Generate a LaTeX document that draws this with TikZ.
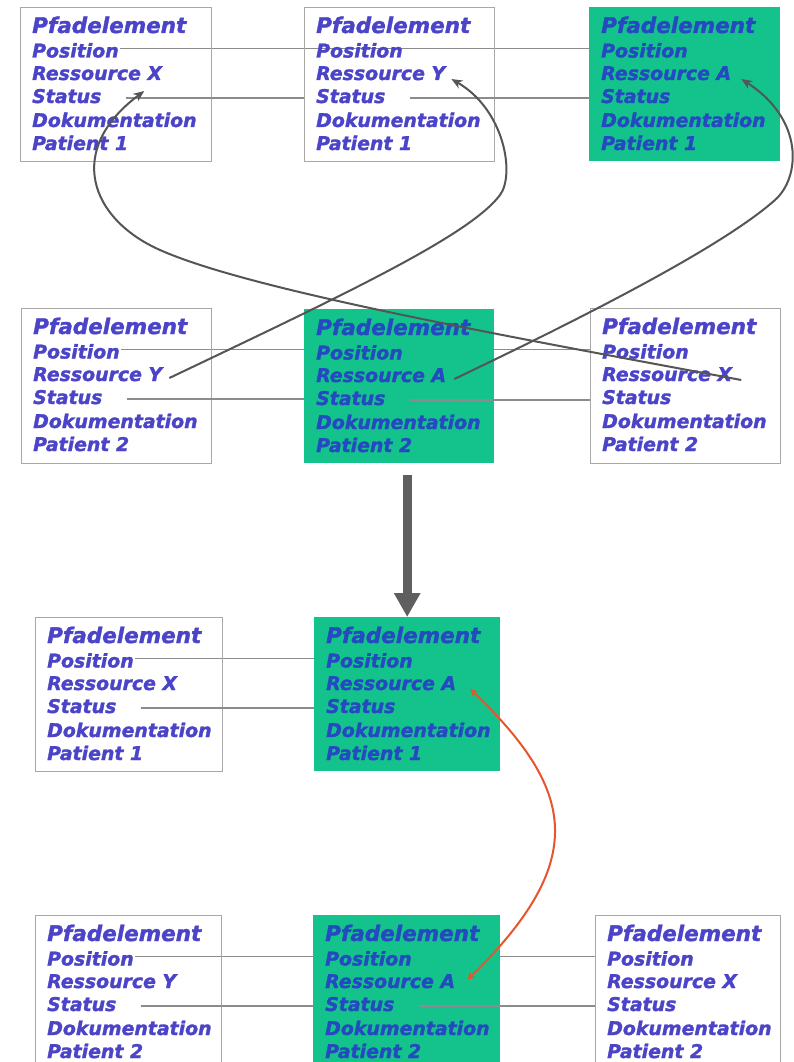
\documentclass[tikz,border=0pt]{standalone}
\usepackage{fontspec}
\setmainfont{DejaVu Sans}[BoldItalicFeatures={FakeBold=1.5}]
\usetikzlibrary{calc,arrows.meta}
\pgfdeclarelayer{background}
\pgfsetlayers{background,main}
\definecolor{pfgreen}{HTML}{14C38C}
\definecolor{pfblueW}{HTML}{4B44C8}
\definecolor{pfblueG}{HTML}{2549C0}
\definecolor{pfframe}{HTML}{A8A8A8}
\definecolor{pfline}{HTML}{8C8C8C}
\definecolor{pfcurve}{HTML}{555555}
\definecolor{pfred}{HTML}{E5562C}
\definecolor{pfbig}{HTML}{5F5F5F}
\newcommand\pfbox[8]{%
  \node[#6box, minimum width=#4pt, minimum height=#5pt, anchor=north west] (#1) at (#2,#3) {};
  \node[#6txt, titlefont, anchor=base west] (#1-t) at ($(#1.north west)+(12,26)$) {Pfadelement};
  \node[#6txt, anchor=base west] (#1-pos) at ($(#1.north west)+(12,50.5)$) {Position};
  \node[#6txt, anchor=base west] (#1-res) at ($(#1.north west)+(12,73)$) {#7};
  \node[#6txt, anchor=base west] (#1-st) at ($(#1.north west)+(12,96)$) {Status};
  \node[#6txt, anchor=base west] (#1-dok) at ($(#1.north west)+(12,120)$) {Dokumentation};
  \node[#6txt, anchor=base west] (#1-pat) at ($(#1.north west)+(12,143)$) {#8};
}
\begin{document}
\begin{tikzpicture}[x=1pt,y=-1pt,
  wbox/.style={draw=pfframe, line width=1.3pt, inner sep=0pt},
  gbox/.style={fill=pfgreen, draw=none, inner sep=0pt},
  wtxt/.style={text=pfblueW, inner sep=0pt, font=\fontsize{18.9}{20}\selectfont\bfseries\itshape},
  gtxt/.style={text=pfblueG, inner sep=0pt, font=\fontsize{18.9}{20}\selectfont\bfseries\itshape},
  titlefont/.style={font=\fontsize{21.5}{22}\selectfont\bfseries\itshape},
  posline/.style={draw=pfline, line width=1.2pt},
  stline/.style={draw=pfline, line width=1.2pt},
  curve/.style={draw=pfcurve, line width=2pt, -{Stealth[length=11pt,width=9pt]}},
  redarrow/.style={draw=pfred, line width=2pt, {Stealth[length=8pt,width=8pt]}-{Stealth[length=8pt,width=8pt]}},
  bigarrow/.style={draw=pfbig, line width=9pt, -{Triangle[length=24pt,width=25pt]}}]
\begin{pgfonlayer}{background}
  \fill[white] (0,0) rectangle (793,1062);
\end{pgfonlayer}
\useasboundingbox (0,0) rectangle (793,1062);

\pfbox{b11}{20}{7}{191}{154}{w}{Ressource X}{Patient 1}
\pfbox{b12}{304}{7}{190}{154}{w}{Ressource Y}{Patient 1}
\pfbox{b13}{589}{7}{191}{154}{g}{Ressource A}{Patient 1}
\pfbox{b21}{21}{308}{190}{155}{w}{Ressource Y}{Patient 2}
\pfbox{b22}{304}{309}{190}{154}{g}{Ressource A}{Patient 2}
\pfbox{b23}{590}{308}{190}{155}{w}{Ressource X}{Patient 2}
\pfbox{b31}{35}{617}{187}{154}{w}{Ressource X}{Patient 1}
\pfbox{b32}{314}{617}{186}{154}{g}{Ressource A}{Patient 1}
\pfbox{b41}{35}{915}{186}{160}{w}{Ressource Y}{Patient 2}
\pfbox{b42}{313}{915}{187}{160}{g}{Ressource A}{Patient 2}
\pfbox{b43}{595}{915}{185}{160}{w}{Ressource X}{Patient 2}

% Position lines (behind the green boxes)
\begin{pgfonlayer}{background}
\foreach \a/\b in {b11/b13, b21/b23, b31/b32, b41/b43} {
  \coordinate (\a-pl) at ($(\a-pos.base east)+(1,-9)$);
  \draw[posline] (\a-pl) -- (\a-pl -| \b.west);
}
\end{pgfonlayer}

% Status lines
\foreach \a/\b in {b11/b12, b12/b13, b21/b22, b22/b23, b31/b32, b41/b42, b42/b43} {
  \coordinate (\a-sl) at ($(\a-st.base east)+(24,-5)$);
  \draw[stline] (\a-sl) -- (\a-sl -| \b.west);
}

% resource exchange arrows
\coordinate (x1) at ($(b11-res.base east)+(-18,11)$);
\coordinate (x2) at ($(b23-res.base east)+(9,-1)$);
\draw[curve] (x2) .. controls (500,335) and (250,290) .. (160,250)
  .. controls (90,219) and (65,150) .. (x1);

\coordinate (y1) at ($(b12-res.base east)+(6,-1)$);
\coordinate (y2) at ($(b21-res.base east)+(7,-3)$);
\draw[curve] (y2) .. controls (350,292) and (470,235) .. (500,195)
  .. controls (515,175) and (505,110) .. (y1);

\coordinate (a1) at ($(b13-res.base east)+(10,-1)$);
\coordinate (a2) at ($(b22-res.base east)+(8,-3)$);
\draw[curve] (a2) .. controls (620,300) and (730,240) .. (775,200)
  .. controls (800,178) and (805,120) .. (a1);

% big arrow
\draw[bigarrow] ($(b22.south -| b32.north)+(0,12)$) -- (b32.north);

% red arrow
\coordinate (r1) at ($(b32-res.base east)+(14,-1)$);
\coordinate (r2) at ($(b42-res.base east)+(12,-8)$);
\draw[redarrow] (r1) .. controls (575,790) and (590,860) .. (r2);
\end{tikzpicture}
\end{document}
